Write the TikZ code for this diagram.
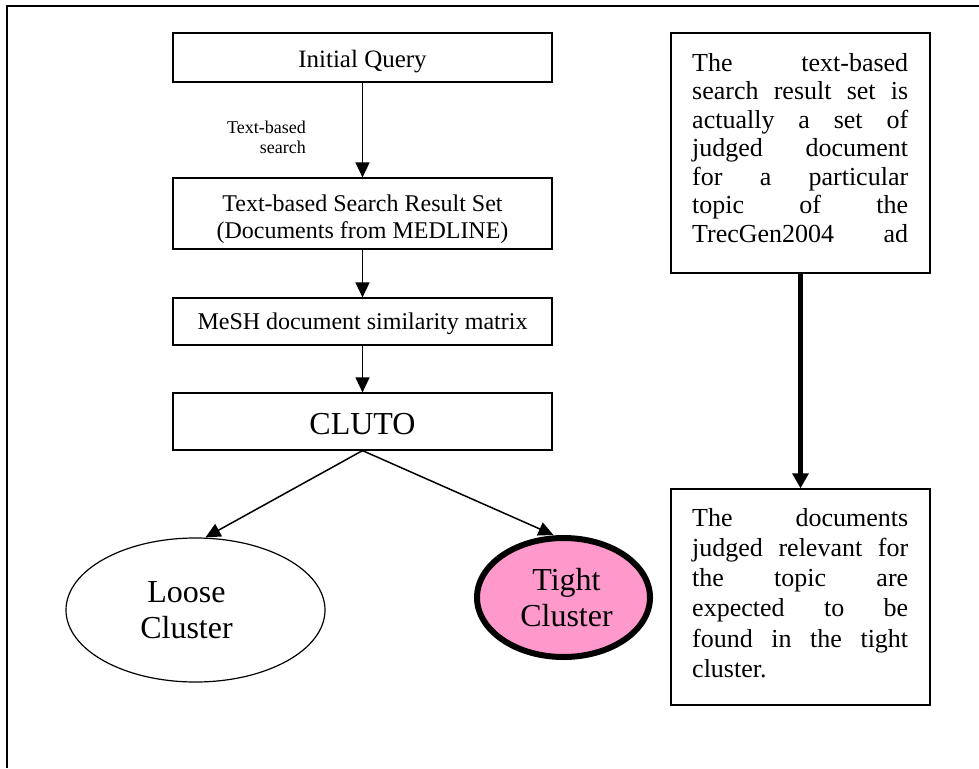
\documentclass[tikz,border=0pt]{standalone}
\usepackage{fontspec}
\setmainfont{Liberation Serif}
\usetikzlibrary{arrows.meta,shapes.geometric}
\definecolor{tightpink}{HTML}{FF99CC}
\begin{document}
\begin{tikzpicture}[x=1pt,y=-1pt,
  flowbox/.style={draw, line width=1.2pt, inner sep=0pt, minimum width=379pt, align=center, font=\fontsize{24}{27}\selectfont},
  flowarrow/.style={line width=1.5pt, -{Triangle[width=14pt,length=15pt]}},
  notebox/.style={draw, line width=1.5pt, minimum width=259pt, inner sep=0pt},
  notetext/.style={anchor=north west, inner sep=0pt, align=left},
  cluster/.style={draw, ellipse, inner sep=0pt, align=center, font=\fontsize{32}{36}\selectfont}
]
\useasboundingbox (0,0) rectangle (979,768);
\draw[line width=1.5pt] (7,768) -- (7,6) -- (979,6);

\node[flowbox, minimum height=49pt, font=\fontsize{25}{28}\selectfont] (query) at (362.5,57.5) {\rule{0pt}{26pt}Initial Query};
\node[flowbox, minimum height=71pt] (result) at (362.5,213.5) {\rule{0pt}{29pt}Text-based Search Result Set\\(Documents from MEDLINE)};
\node[flowbox, minimum height=47pt] (mesh) at (362.5,321.5) {\rule{0pt}{22pt}MeSH document similarity matrix};
\node[flowbox, minimum height=57pt, font=\fontsize{32}{36}\selectfont] (cluto) at (362.5,421.5) {\rule{0pt}{27pt}CLUTO};

\node[anchor=east, align=right, inner sep=0pt, font=\fontsize{18}{20}\selectfont] (lbl) at (306,137) {Text-based\\search};

\draw[flowarrow] (query) -- (result);
\draw[flowarrow] (result) -- (mesh);
\draw[flowarrow] (mesh) -- (cluto);

\node[cluster, line width=1.2pt, minimum width=259pt, minimum height=144pt] (loose) at (195.5,610) {Loose\hspace*{18pt}\\Cluster\hspace*{18pt}};
\node[cluster, line width=6pt, fill=tightpink, minimum width=173pt, minimum height=119pt] (tight) at (563.5,597.5) {Tight\hspace*{-6pt}\\Cluster\hspace*{-6pt}};

\draw[flowarrow] (cluto.south) -- ([xshift=10pt]loose.north);
\draw[flowarrow] (cluto.south) -- ([xshift=-10pt]tight.north);

\node[notebox, minimum height=240pt] (note1) at (800.5,153) {};
\node[notetext, font=\fontsize{26}{28.5}\selectfont] (note1text) at (692,53) {%
\makebox[216pt][s]{The text-based}\\
\makebox[216pt][s]{search result set is}\\
\makebox[216pt][s]{actually a set of}\\
\makebox[216pt][s]{judged document}\\
\makebox[216pt][s]{for a particular}\\
\makebox[216pt][s]{topic of the}\\
\makebox[216pt][s]{TrecGen2004 ad}};

\node[notebox, minimum height=216pt] (note2) at (800.5,597) {};
\node[notetext, font=\fontsize{26}{30.2}\selectfont] (note2text) at (692,508) {%
\makebox[216pt][s]{The documents}\\
\makebox[216pt][s]{judged relevant for}\\
\makebox[216pt][s]{the topic are}\\
\makebox[216pt][s]{expected to be}\\
\makebox[216pt][s]{found in the tight}\\
\makebox[216pt][l]{cluster.}};

\draw[line width=5pt, -{Triangle[width=16pt,length=15pt]}] (note1.south) -- (note2.north);
\end{tikzpicture}
\end{document}
